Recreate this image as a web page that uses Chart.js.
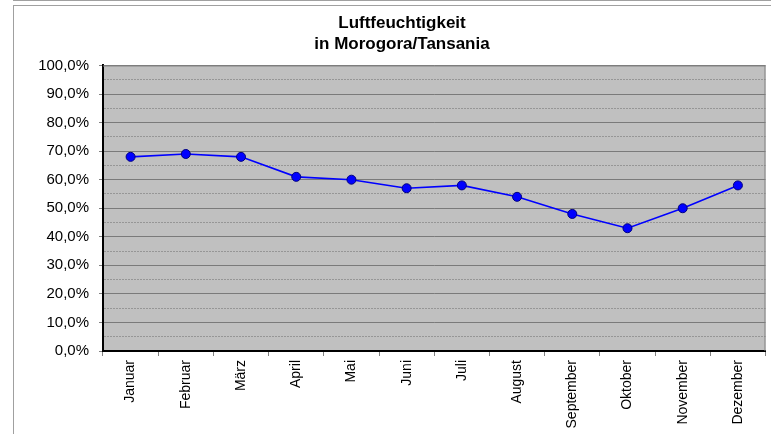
<!DOCTYPE html>
<html>
<head>
<meta charset="utf-8">
<script src="https://cdn.jsdelivr.net/npm/chart.js@4"></script>
<style>
html,body{margin:0;padding:0;background:#fff;}
#wrap{width:771px;height:434px;position:relative;}
</style>
</head>
<body>
<div id="wrap"><canvas id="c" width="771" height="434"></canvas></div>
<script>
const titleLines = ['Luftfeuchtigkeit', 'in Morogora/Tansania'];
const months = ['Januar','Februar','März','April','Mai','Juni','Juli','August','September','Oktober','November','Dezember'];
const humidity = [68, 69, 68, 61, 60, 57, 58, 54, 48, 43, 50, 58];
const yMin = 0, yMax = 100, yStep = 5, yLabelStep = 10;

const framePlugin = {
  id: 'frame',
  beforeDraw(chart) {
    const ctx = chart.ctx, a = chart.chartArea;
    ctx.save();
    ctx.fillStyle = '#fff';
    ctx.fillRect(0, 0, chart.width, chart.height);
    ctx.strokeStyle = '#a0a0a0';
    ctx.lineWidth = 1;
    ctx.beginPath();
    ctx.moveTo(13, 0.5); ctx.lineTo(chart.width, 0.5);
    ctx.moveTo(13, 5.5); ctx.lineTo(chart.width, 5.5);
    ctx.moveTo(13.5, 5); ctx.lineTo(13.5, chart.height);
    ctx.stroke();
    ctx.fillStyle = '#c0c0c0';
    ctx.fillRect(a.left, a.top, a.right - a.left, a.bottom - a.top);
    ctx.restore();
  },
  beforeDatasetsDraw(chart) {
    const ctx = chart.ctx, a = chart.chartArea;
    ctx.save();
    ctx.strokeStyle = '#808080';
    ctx.lineWidth = 1;
    ctx.beginPath();
    ctx.moveTo(a.left, a.top + 0.5); ctx.lineTo(a.right, a.top + 0.5);
    ctx.moveTo(a.right - 0.5, a.top); ctx.lineTo(a.right - 0.5, a.bottom);
    ctx.stroke();
    ctx.restore();
  }
};

new Chart(document.getElementById('c'), {
  type: 'line',
  data: {
    labels: months,
    datasets: [{
      data: humidity,
      borderColor: '#0000ff',
      borderWidth: 1.6,
      backgroundColor: '#0000ff',
      pointBackgroundColor: '#0000ff',
      pointBorderColor: '#000080',
      pointBorderWidth: 1,
      pointRadius: 4.5,
      tension: 0,
      fill: false
    }]
  },
  options: {
    responsive: false,
    animation: false,
    devicePixelRatio: 1,
    layout: { padding: { left: 35, right: 2, top: 0, bottom: 0 } },
    plugins: {
      legend: { display: false },
      tooltip: { enabled: false },
      title: {
        display: true,
        text: titleLines,
        color: '#000',
        font: { family: 'Liberation Sans, Arial, sans-serif', size: 17, weight: 'bold', lineHeight: 1.22 },
        padding: { top: 13, bottom: 11 }
      }
    },
    scales: {
      x: {
        type: 'category',
        offset: true,
        afterFit(s) { s.height = 83; },
        grid: { offset: true, drawOnChartArea: false, drawTicks: true, tickLength: 5, color: '#808080' },
        border: { display: true, color: '#000', width: 2 },
        ticks: {
          autoSkip: false, maxRotation: 90, minRotation: 90, padding: 4,
          color: '#000',
          font: { family: 'Liberation Sans, Arial, sans-serif', size: 14 }
        }
      },
      y: {
        min: yMin, max: yMax,
        afterFit(s) { s.width = 68; },
        grid: {
          drawOnChartArea: true, drawTicks: true, tickLength: 4,
          color: (c) => (c.tick && c.tick.value % yLabelStep === 0) ? '#7a7a7a' : '#969696',
          tickColor: (c) => (c.tick && c.tick.value % yLabelStep === 0) ? '#808080' : 'rgba(0,0,0,0)'
        },
        border: {
          display: true, color: '#000', width: 2,
          dash: (c) => (c.tick && c.tick.value % yLabelStep === 0) ? [] : [2, 1]
        },
        ticks: {
          stepSize: yStep, autoSkip: false, padding: 10,
          color: '#000',
          font: { family: 'Liberation Sans, Arial, sans-serif', size: 15 },
          callback: (v) => (v % yLabelStep === 0) ? v.toFixed(1).replace('.', ',') + '%' : ''
        }
      }
    }
  },
  plugins: [framePlugin]
});
</script>
</body>
</html>
